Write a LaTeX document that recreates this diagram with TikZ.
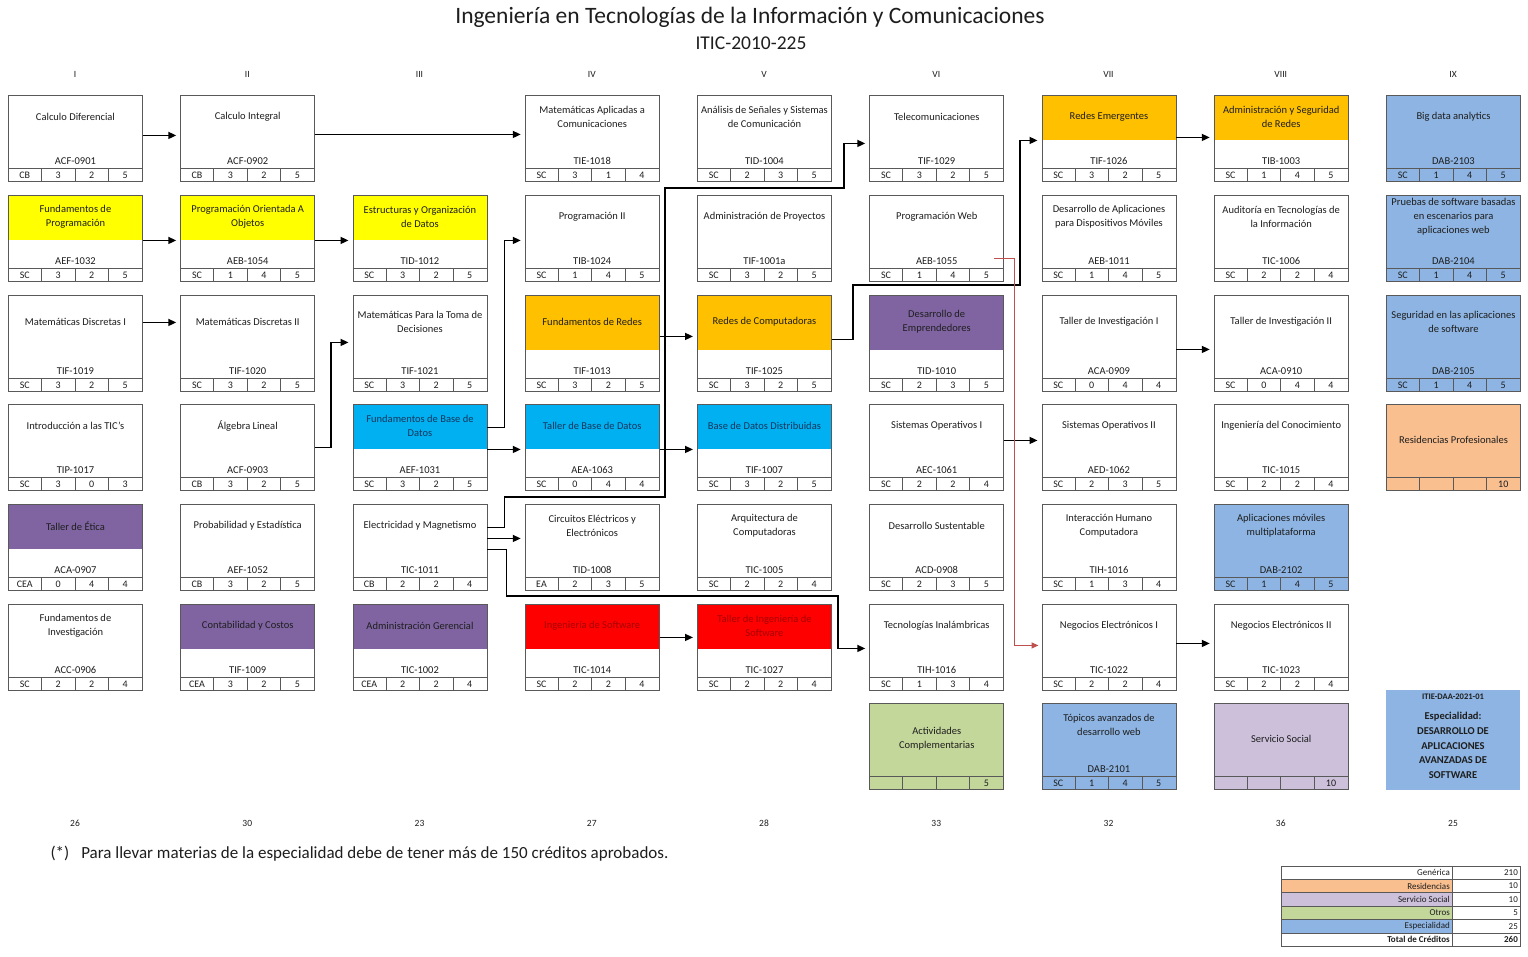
\documentclass[tikz,border=0pt]{standalone}
\usepackage{fontspec}
\setmainfont{Carlito}
\usetikzlibrary{arrows.meta, calc, positioning}
\definecolor{tinta}{HTML}{1E1E1E}
\definecolor{borde}{HTML}{595959}
\definecolor{amarillo}{HTML}{FFFF00}
\definecolor{naranja}{HTML}{FFC000}
\definecolor{celeste}{HTML}{00B0F0}
\definecolor{morado}{HTML}{8064A2}
\definecolor{rojo}{HTML}{FF0000}
\definecolor{azulesp}{HTML}{8DB4E2}
\definecolor{durazno}{HTML}{FABF8F}
\definecolor{verde}{HTML}{C4D79B}
\definecolor{lila}{HTML}{CCC0DA}
\definecolor{guinda}{HTML}{C0504D}
\definecolor{vino}{HTML}{A50000}
\definecolor{marino}{HTML}{17365D}
\tikzset{
  caja/.style={draw=borde, line width=0.9pt, anchor=north west, minimum width=134, inner sep=0pt},
  raya/.style={draw=borde, line width=0.9pt},
  titulo/.style={align=center, font=\fontsize{10.5}{14}\selectfont, text=tinta},
  txt-rojo/.style={text=vino},
  txt-celeste/.style={text=marino},
  codigo/.style={font=\fontsize{10.5}{12}\selectfont, text=tinta},
  celda/.style={font=\fontsize{10}{12}\selectfont, text=tinta},
  rotulo/.style={font=\fontsize{9.5}{11}\selectfont, text=tinta},
  leyenda/.style={font=\fontsize{9}{11}\selectfont, text=tinta, anchor=east, inner sep=1pt},
  flecha/.style={line width=1.6pt, -{Triangle[length=8pt,width=7pt]}, shorten >=4pt},
  flecharoja/.style={guinda, line width=1.2pt, -{Triangle[length=7pt,width=6pt]}, shorten >=3pt}
}
\newcommand{\franja}[2]{%
  \draw[raya] ($(#1.south west)+(0,-13)$) -- ($(#1.south east)+(0,-13)$);
  \foreach \k in {1,2,3} \draw[raya] ($(#1.south west)+(33.5*\k,0)$) -- ++(0,-13);
  \foreach \c [count=\k] in {#2} \node[celda] (#1-\k) at ($(#1.south west)+(33.5*\k-16.75,-6.5)$) {\c};
}
\newcommand{\materia}[9]{%
  \fill[#6] ({8+172.25*(#2-1)},#3) rectangle ++(134,#5);
  \node[caja, minimum height=#4] (#1) at ({8+172.25*(#2-1)},#3) {};
  \franja{#1}{#9}
  \node[titulo, txt-#6/.try] (#1-t) at ($(#1.north)+(0,#4/2-21)$) {#7};
  \node[codigo] (#1-c) at ($(#1.south)+(0,-21)$) {#8};
}
\newcommand{\libre}[6]{%
  \fill[#4] ({8+172.25*(#2-1)},#3) rectangle ++(134,86);
  \node[caja, minimum height=86] (#1) at ({8+172.25*(#2-1)},#3) {};
  \franja{#1}{#6}
  \node[titulo] (#1-t) at ($(#1.north)+(0,36)$) {#5};
}

\begin{document}
\begin{tikzpicture}[x=1pt, y=-1pt]
  \useasboundingbox (0,0) rectangle (1528,957);
  \fill[white] (0,0) rectangle (1528,957);

  \node[font=\fontsize{23.5}{26}\selectfont, text=tinta] (titulo) at (750,17) {Ingeniería en Tecnologías de la Información y Comunicaciones};
  \node[font=\fontsize{19.5}{22}\selectfont, text=tinta] (plan) at (751,43) {ITIC-2010-225};
  \foreach \r [count=\k] in {I,II,III,IV,V,VI,VII,VIII,IX}
    \node[rotulo] (sem-\k) at ({75+172.25*(\k-1)},74) {\r};
  \foreach \n [count=\k] in {26,30,23,27,28,33,32,36,25}
    \node[rotulo] (cred-\k) at ({75+172.25*(\k-1)},823) {\n};

  \materia{cdif}{1}{95}{86}{45}{white}{Calculo Diferencial}{ACF-0901}{CB,3,2,5}
  \materia{fprog}{1}{195}{86}{45}{amarillo}{Fundamentos de\\Programación}{AEF-1032}{SC,3,2,5}
  \materia{mdisa}{1}{295}{96}{55}{white}{Matemáticas Discretas I}{TIF-1019}{SC,3,2,5}
  \materia{intic}{1}{404}{86}{45}{white}{Introducción a las TIC’s}{TIP-1017}{SC,3,0,3}
  \materia{etica}{1}{504}{86}{45}{morado}{Taller de Ética}{ACA-0907}{CEA,0,4,4}
  \materia{finv}{1}{604}{86}{45}{white}{Fundamentos de\\Investigación}{ACC-0906}{SC,2,2,4}

  \materia{cint}{2}{95}{86}{45}{white}{Calculo Integral}{ACF-0902}{CB,3,2,5}
  \materia{poo}{2}{195}{86}{45}{amarillo}{Programación Orientada A\\Objetos}{AEB-1054}{SC,1,4,5}
  \materia{mdisb}{2}{295}{96}{55}{white}{Matemáticas Discretas II}{TIF-1020}{SC,3,2,5}
  \materia{alg}{2}{404}{86}{45}{white}{Álgebra Lineal}{ACF-0903}{CB,3,2,5}
  \materia{prob}{2}{504}{86}{45}{white}{Probabilidad y Estadística}{AEF-1052}{CB,3,2,5}
  \materia{cont}{2}{604}{86}{45}{morado}{Contabilidad y Costos}{TIF-1009}{CEA,3,2,5}

  \materia{estr}{3}{195}{86}{45}{amarillo}{Estructuras y Organización\\de Datos}{TID-1012}{SC,3,2,5}
  \materia{mtd}{3}{295}{96}{55}{white}{Matemáticas Para la Toma de\\Decisiones}{TIF-1021}{SC,3,2,5}
  \materia{fbd}{3}{404}{86}{45}{celeste}{Fundamentos de Base de\\Datos}{AEF-1031}{SC,3,2,5}
  \materia{elec}{3}{504}{86}{45}{white}{Electricidad y Magnetismo}{TIC-1011}{CB,2,2,4}
  \materia{adger}{3}{604}{86}{45}{morado}{Administración Gerencial}{TIC-1002}{CEA,2,2,4}

  \materia{mapl}{4}{95}{86}{45}{white}{Matemáticas Aplicadas a\\Comunicaciones}{TIE-1018}{SC,3,1,4}
  \materia{progb}{4}{195}{86}{45}{white}{Programación II}{TIB-1024}{SC,1,4,5}
  \materia{fred}{4}{295}{96}{55}{naranja}{Fundamentos de Redes}{TIF-1013}{SC,3,2,5}
  \materia{tbd}{4}{404}{86}{45}{celeste}{Taller de Base de Datos}{AEA-1063}{SC,0,4,4}
  \materia{circ}{4}{504}{86}{45}{white}{Circuitos Eléctricos y\\Electrónicos}{TID-1008}{EA,2,3,5}
  \materia{isw}{4}{604}{86}{45}{rojo}{Ingeniería de Software}{TIC-1014}{SC,2,2,4}

  \materia{ass}{5}{95}{86}{45}{white}{Análisis de Señales y Sistemas\\de Comunicación}{TID-1004}{SC,2,3,5}
  \materia{aproy}{5}{195}{86}{45}{white}{Administración de Proyectos}{TIF-1001a}{SC,3,2,5}
  \materia{rcomp}{5}{295}{96}{55}{naranja}{Redes de Computadoras}{TIF-1025}{SC,3,2,5}
  \materia{bdd}{5}{404}{86}{45}{celeste}{Base de Datos Distribuidas}{TIF-1007}{SC,3,2,5}
  \materia{arq}{5}{504}{86}{45}{white}{Arquitectura de\\Computadoras}{TIC-1005}{SC,2,2,4}
  \materia{tisw}{5}{604}{86}{45}{rojo}{Taller de Ingeniería de\\Software}{TIC-1027}{SC,2,2,4}

  \materia{tele}{6}{95}{86}{45}{white}{Telecomunicaciones}{TIF-1029}{SC,3,2,5}
  \materia{pweb}{6}{195}{86}{45}{white}{Programación Web}{AEB-1055}{SC,1,4,5}
  \materia{demp}{6}{295}{96}{55}{morado}{Desarrollo de\\Emprendedores}{TID-1010}{SC,2,3,5}
  \materia{sopa}{6}{404}{86}{45}{white}{Sistemas Operativos I}{AEC-1061}{SC,2,2,4}
  \materia{dsus}{6}{504}{86}{45}{white}{Desarrollo Sustentable}{ACD-0908}{SC,2,3,5}
  \materia{tinal}{6}{604}{86}{45}{white}{Tecnologías Inalámbricas}{TIH-1016}{SC,1,3,4}
  \libre{actc}{6}{703}{verde}{Actividades\\Complementarias}{{},{},{},5}

  \materia{remer}{7}{95}{86}{45}{naranja}{Redes Emergentes}{TIF-1026}{SC,3,2,5}
  \materia{dam}{7}{195}{86}{45}{white}{Desarrollo de Aplicaciones\\para Dispositivos Móviles}{AEB-1011}{SC,1,4,5}
  \materia{tinva}{7}{295}{96}{55}{white}{Taller de Investigación I}{ACA-0909}{SC,0,4,4}
  \materia{sopb}{7}{404}{86}{45}{white}{Sistemas Operativos II}{AED-1062}{SC,2,3,5}
  \materia{ihc}{7}{504}{86}{45}{white}{Interacción Humano\\Computadora}{TIH-1016}{SC,1,3,4}
  \materia{nega}{7}{604}{86}{45}{white}{Negocios Electrónicos I}{TIC-1022}{SC,2,2,4}
  \materia{topw}{7}{703}{86}{86}{azulesp}{Tópicos avanzados de\\desarrollo web}{DAB-2101}{SC,1,4,5}

  \materia{asred}{8}{95}{86}{45}{naranja}{Administración y Seguridad\\de Redes}{TIB-1003}{SC,1,4,5}
  \materia{audti}{8}{195}{86}{45}{white}{Auditoría en Tecnologías de\\la Información}{TIC-1006}{SC,2,2,4}
  \materia{tinvb}{8}{295}{96}{55}{white}{Taller de Investigación II}{ACA-0910}{SC,0,4,4}
  \materia{icon}{8}{404}{86}{45}{white}{Ingeniería del Conocimiento}{TIC-1015}{SC,2,2,4}
  \materia{amov}{8}{504}{86}{86}{azulesp}{Aplicaciones móviles\\multiplataforma}{DAB-2102}{SC,1,4,5}
  \materia{negb}{8}{604}{86}{45}{white}{Negocios Electrónicos II}{TIC-1023}{SC,2,2,4}
  \libre{ssoc}{8}{703}{lila}{Servicio Social}{{},{},{},10}

  \materia{bigd}{9}{95}{86}{86}{azulesp}{Big data analytics}{DAB-2103}{SC,1,4,5}
  \materia{pruebas}{9}{195}{86}{86}{azulesp}{Pruebas de software basadas\\en escenarios para\\aplicaciones web}{DAB-2104}{SC,1,4,5}
  \materia{segsw}{9}{295}{96}{96}{azulesp}{Seguridad en las aplicaciones\\de software}{DAB-2105}{SC,1,4,5}
  \libre{resid}{9}{404}{durazno}{Residencias Profesionales}{{},{},{},10}

  \node[fill=azulesp, anchor=north west, minimum width=134, minimum height=100, inner sep=0pt] (espdaa) at (1386,690) {};
  \node[font=\bfseries\fontsize{8.5}{10}\selectfont, text=tinta] (espdaa-id) at (1453,697) {ITIE-DAA-2021-01};
  \node[font=\bfseries\fontsize{10.5}{14.75}\selectfont, text=tinta, align=center] (espdaa-t) at (1453,745.5)
    {Especialidad:\\DESARROLLO DE\\APLICACIONES\\AVANZADAS DE\\SOFTWARE};

  \draw[flecha] ([yshift=3pt]cdif.east) -- ([yshift=3pt]cint.west);
  \draw[flecha] ([yshift=4pt]cint.east) -- ([yshift=4pt]mapl.west);
  \draw[flecha] ([yshift=-2pt]fprog.east) -- ([yshift=-2pt]poo.west);
  \draw[flecha] ([yshift=-2pt]poo.east) -- ([yshift=-2pt]estr.west);
  \draw[flecha] ([yshift=21pt]mdisa.east) -- ([yshift=21pt]mdisb.west);
  \draw[flecha] (alg.east) -- ++(16,0) |- ([yshift=1pt]mtd.west);
  \draw[flecha] ([yshift=20pt]fbd.east) -- ++(17,0) |- ([yshift=-2pt]progb.west);
  \draw[flecha] ([yshift=-2pt]fbd.east) -- ([yshift=-2pt]tbd.west);
  \draw[flecha] ([yshift=7pt]fred.east) -- ([yshift=7pt]rcomp.west);
  \draw[flecha] ([yshift=-2pt]tbd.east) -- ([yshift=-2pt]bdd.west);
  \draw[flecha] ([yshift=4pt]rcomp.east) -- ++(21,0) |- (1020,285) |- ([yshift=-2pt]remer.west);
  \draw[flecha] ([yshift=20pt]elec.east) -- ++(17,0) |- (665,497) |- (844,188) |- ([yshift=-5pt]tele.west);
  \draw[flecha] ([yshift=9pt]elec.east) -- ([yshift=9pt]circ.west);
  \draw[flecha] ([yshift=-2pt]elec.east) -- ++(19,0) |- (838,596) |- ([yshift=-1pt]tinal.west);
  \draw[flecha] ([yshift=10pt]isw.east) -- ([yshift=10pt]tisw.west);
  \draw[flecha] ([yshift=7pt]sopa.east) -- ([yshift=7pt]sopb.west);
  \draw[flecha] ([yshift=1pt]remer.east) -- ([yshift=1pt]asred.west);
  \draw[flecha] ([yshift=-6pt]tinva.east) -- ([yshift=-6pt]tinvb.west);
  \draw[flecha] ([yshift=4pt]nega.east) -- ([yshift=4pt]negb.west);
  \draw[flecharoja] ([xshift=-10pt,yshift=-20pt]pweb.east) -- ++(20,0) |- ([yshift=2pt]nega.west);

  \node[anchor=west, font=\fontsize{17}{20}\selectfont, text=tinta] (nota) at (47,854)
    {(*)\hspace{12pt}Para llevar materias de la especialidad debe de tener más de 150 créditos aprobados.};

  \foreach \lab/\val/\col [count=\k] in {Genérica/210/white, Residencias/10/durazno, Servicio Social/10/lila, Otros/5/verde, Especialidad/25/azulesp} {
    \fill[\col] (1281,{866+13.4*(\k-1)}) rectangle ++(171,13.4);
    \draw[raya, line width=0.7pt] (1281,{866+13.4*(\k-1)}) rectangle ++(171,13.4) rectangle ++(68,-13.4);
    \node[leyenda] (ley-\k) at (1451,{866+13.4*(\k-0.5)}) {\lab};
    \node[leyenda] (val-\k) at (1519,{866+13.4*(\k-0.5)}) {\val};
  }
  \draw[raya, line width=0.7pt] (1281,933) rectangle ++(171,13.4) rectangle ++(68,-13.4);
  \node[leyenda, font=\bfseries\fontsize{9}{11}\selectfont] (ley-6) at (1451,939.7) {Total de Créditos};
  \node[leyenda, font=\bfseries\fontsize{9}{11}\selectfont] (val-6) at (1519,939.7) {260};
\end{tikzpicture}
\end{document}
